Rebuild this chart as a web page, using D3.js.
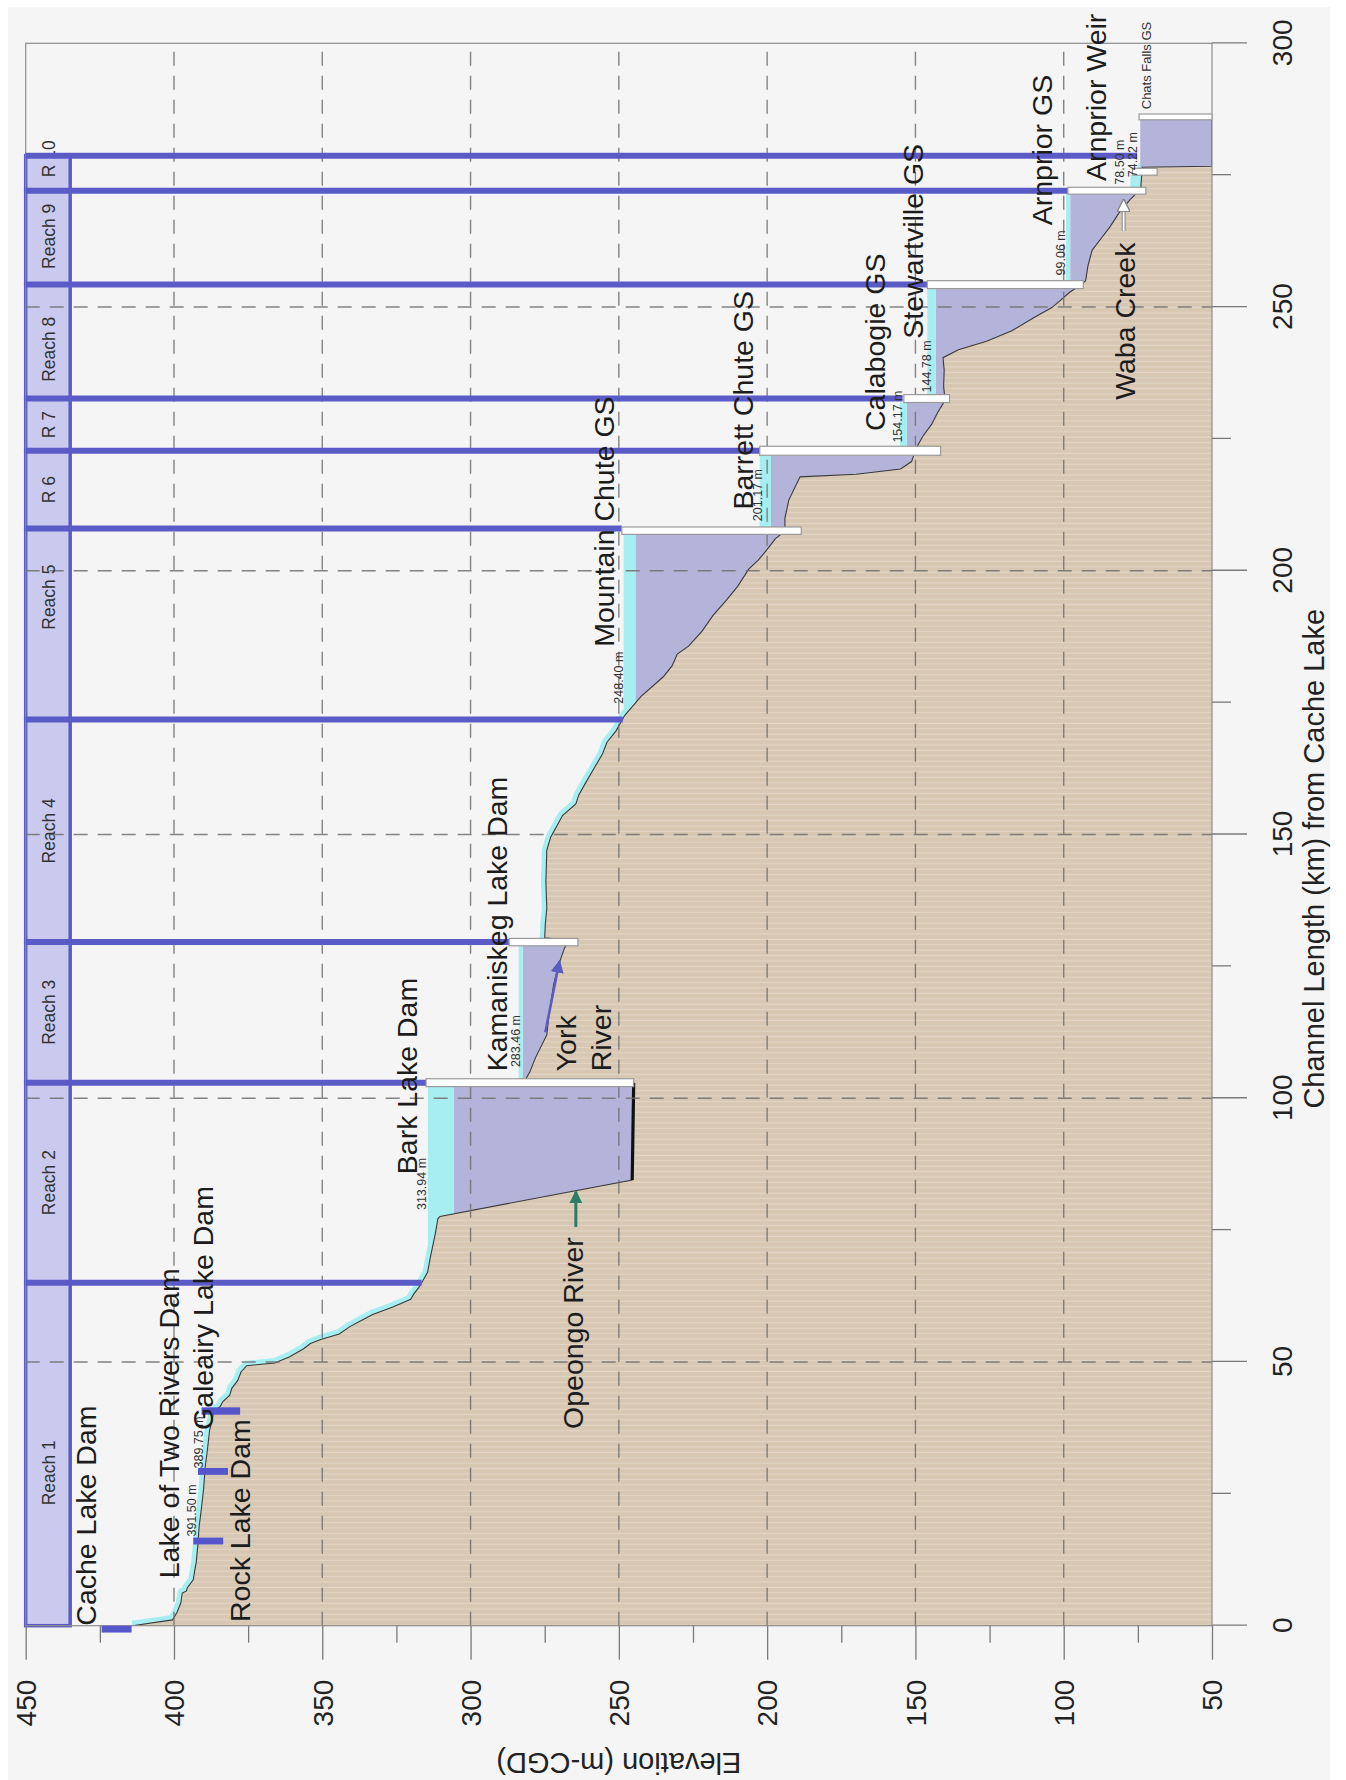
<!DOCTYPE html>
<html><head><meta charset="utf-8">
<script src="https://cdn.jsdelivr.net/npm/d3@7"></script>
<style>
html,body{margin:0;padding:0;background:#fff;}
svg{display:block;}
text{font-family:"Liberation Sans",Arial,Helvetica,sans-serif;}
</style></head><body>
<svg id="chart" width="1346" height="1780"></svg>
<script>
// ---------------- DATA ----------------
const kmTicks = [0, 50, 100, 150, 200, 250, 300];
const kmMinorTicks = [25, 75, 125, 175, 225, 275];
const elevTicks = [50, 100, 150, 200, 250, 300, 350, 400, 450];
const elevMinorTicks = [75, 125, 175, 225, 275, 325, 375, 425];
const kmGrid = [50, 100, 150, 200, 250];
const elevGrid = [100, 150, 200, 250, 300, 350, 400];

// river bed profile: [km, elevation m]
const groundProfile = [
  [0,414],[1.1,400.5],[2.5,399],[4.3,397.7],[6.2,397.2],[6.6,395.8],[7.2,395.5],[8.7,393.5],[10.5,393],[12,392.5],
  [15,392],[18.9,391.5],[22,390.8],[26,390],[30,389.5],[33.5,388.7],[37,388],[40.7,386.5],[41.5,384.5],[42.5,383.5],
  [43.7,381.2],[45,380.5],[46.5,378.5],[48.1,377.4],[49.3,375.5],[49.8,366],[51,361],[52.5,356.3],[53.5,354],[54.2,350.8],
  [55.3,344.3],[56.7,340.7],[57.8,337],[59,333],[60.4,326.2],[61.9,320.2],[63,319],[64.1,317.5],[65.5,316],[67,314.5],
  [70,313.5],[74,312],[77.2,311],[77.6,310.3],[84.5,245.5],[102.9,245],[103.2,281.8],[105,280],[107.7,278.1],[112,274.3],
  [116,273.5],[121.5,272],[125,270.5],[128.5,268.3],[130,267],[130.4,275],[133,274.8],[136,274.3],[141,274.6],[147,274.3],
  [149.5,273],[151.5,271],[153.6,269],[155.8,264.5],[157.5,263.5],[159.5,261.5],[162.4,258.5],[165.3,255.5],[167.5,254],[169.6,251],
  [172.6,248],[176.2,242.5],[179.9,235],[182,232],[184.2,230.3],[185.7,226.5],[188.5,222],[191.5,218.3],[194.4,213.8],[197,210],
  [200.3,206.2],[202,203],[203.9,200.2],[206.1,197.2],[207.5,194],[210,194],[213.4,192.7],[217.8,188.9],[218.3,170],[219.3,155],
  [220.7,151.3],[223.2,149.8],[225.5,147.5],[227.8,144.5],[230,142.5],[232.3,140],[235,140.5],[238,140.3],[240.4,140.7],[241.9,135.5],
  [243.5,126],[245.5,117.5],[248,110],[249.9,104],[251.3,101],[252.8,98],[254.2,94.2],[255,92.6],[257.9,91.8],[260.8,90.4],
  [263,87.4],[265.2,84.4],[267.8,81.4],[270.3,77.7],[271.7,75.3],[272.7,74],[276.5,73.5],[276.7,50],[286.6,50]
];
// deep Bark Lake bottom segment
const barkBottom = [[84.5,245.5],[102.9,245]];

// reach boundaries (km) and where each boundary line stops (elevation)
const reachBounds = [0, 65.0, 102.95, 129.6, 171.8, 208.0, 222.75, 232.65, 254.25, 272.05, 278.7];
const reachLineEnd = [316.5, 315, 287, 248.7, 249, 202.5, 154.3, 146, 98.6, 75.3];
const reachNames = ["Reach 1","Reach 2","Reach 3","Reach 4","Reach 5","R 6","R 7","Reach 8","Reach 9","R 10"];
const reachLabelKm = [29, 84, 116.3, 150.7, 195, 215.4, 227.7, 242, 263.4, 278.1];

// reservoirs: km extent, normal level (lavender top) and high level (cyan top)
const resKmStart = [66, 103.7, 171.8, 208.3, 223.6, 233.4, 255, 272.7, 276.3];
const resKmEnd   = [102.2, 128.9, 206.9, 221.9, 231.9, 253.5, 271.4, 275, 285.5];
const resLevel   = [305.6, 282.4, 244.4, 198.7, 152.9, 143.1, 97.8, 74, 74.2];
const resMax     = [314.4, 283.8, 248.4, 202.5, 155.2, 146, 99.2, 77.5, 74.2];

// dams / generating stations (white bars)
const damKmStart = [102.2, 128.9, 206.9, 221.9, 231.9, 253.5, 271.4, 275, 285.5];
const damKmEnd   = [103.7, 130.3, 208.3, 223.6, 233.4, 255, 272.7, 276.3, 286.6];
const damTop     = [315, 287, 249, 202.5, 153.9, 146, 98.6, 76.8, 74.6];
const damBottom  = [245, 263.8, 188.5, 141.5, 138.5, 93.4, 72.3, 68.5, 50];

// small dams in Reach 1 (blue bars)
const smallDamKmStart = [-1.3, 15.4, 28.6, 40.0];
const smallDamKmEnd   = [0, 16.7, 29.9, 41.4];
const smallDamTop     = [424.4, 393.5, 391.9, 390.7];
const smallDamBottom  = [414.3, 383.4, 381.8, 377.7];

// big labels: text, start km, baseline elevation
const nameText = ["Cache Lake Dam","Lake of Two Rivers Dam","Galeairy Lake Dam","Rock Lake Dam","Bark Lake Dam",
  "Kamaniskeg Lake Dam","York","River","Opeongo River","Mountain Chute GS","Barrett Chute GS","Calabogie GS",
  "Stewartville GS","Arnprior GS","Arnprior Weir","Waba Creek"];
const nameKm = [0, 9.0, 37.1, 0.7, 85.6, 105.1, 105.1, 105.1, 37.3, 185.6, 211.6, 226.5, 244, 265.5, 273.9, 232.4];
const nameElev = [426.3, 398.4, 386.7, 374.4, 318.2, 287.7, 264.5, 252.5, 262, 251.7, 204.8, 160.1, 147.5, 103.8, 85.6, 75.8];

// water level labels
const levelText = ["391.50 m","389.75 m","313.94 m","283.46 m","248.40 m","201.17 m","154.17 m","144.78 m","99.06 m","78.50 m","74.22 m"];
const levelKm   = [16.9, 29.8, 78.8, 105.9, 174.8, 209.4, 224.3, 233.8, 256, 273.2, 274.6];
const levelElev = [392.5, 390.3, 315, 283.3, 248.7, 201.7, 154.6, 144.8, 99.4, 79.8, 75.3];

// tributary arrows: [km from, elev from, km to, elev to]
const opeongoArrow = [75.6, 264.5, 82.3, 264.5];
const yorkArrow = [112.5, 274.8, 126, 270];
const wabaArrow = [264.4, 79.8, 270.3, 79.8];

// ---------------- DRAW ----------------
const svg = d3.select("#chart");
svg.append("rect").attr("x",8).attr("y",7).attr("width",1322).attr("height",1773).attr("fill","#f5f5f5");

const W = 1582.4, H = 1186.3;
const X0 = 25.7, Y0 = 1625.7;
const x = d3.scaleLinear().domain([0,300]).range([0,W]);
const y = d3.scaleLinear().domain([50,450]).range([H,0]);

const defs = svg.append("defs");
const g = svg.append("g").attr("transform", `translate(${X0},${Y0}) rotate(-90)`);

defs.append("clipPath").attr("id","plotclip").append("rect")
  .attr("x",0).attr("y",0).attr("width",W).attr("height",H);
const pat = defs.append("pattern").attr("id","tan").attr("patternUnits","userSpaceOnUse")
  .attr("width",5.4).attr("height",20);
pat.append("rect").attr("width",5.4).attr("height",20).attr("fill","#d7c7b3");
pat.append("rect").attr("x",0).attr("width",1.1).attr("height",20).attr("fill","#e3d6c6");

function arrowMarker(id, fill, stroke){
  const m = defs.append("marker").attr("id",id).attr("viewBox","0 0 10 10")
    .attr("refX",9).attr("refY",5).attr("markerUnits","userSpaceOnUse")
    .attr("markerWidth",13).attr("markerHeight",13).attr("orient","auto");
  m.append("path").attr("d","M0,0 L10,5 L0,10 z").attr("fill",fill)
    .attr("stroke",stroke||"none").attr("stroke-width",stroke?1.2:0);
}
arrowMarker("arrGreen","#2b7d66");
arrowMarker("arrBlue","#5b5bc0");
arrowMarker("arrWhite","#ffffff","#8a8a8a");

const clip = g.append("g").attr("clip-path","url(#plotclip)");

const line = d3.line().x(d => x(d[0])).y(d => y(d[1]));
const area = d3.area().x(d => x(d[0])).y0(y(50)).y1(d => y(d[1]));

// cyan river band along bed
clip.append("path").datum(groundProfile).attr("d", line)
  .attr("fill","none").attr("stroke","#a6eef0").attr("stroke-width",10).attr("stroke-linejoin","round");

// reservoirs
resKmStart.forEach((k0,i) => {
  clip.append("rect").attr("x", x(k0)).attr("width", x(resKmEnd[i]) - x(k0))
    .attr("y", y(resLevel[i])).attr("height", y(50) - y(resLevel[i])).attr("fill","#b4b4da");
  if (resMax[i] > resLevel[i]) {
    clip.append("rect").attr("x", x(k0)).attr("width", x(resKmEnd[i]) - x(k0))
      .attr("y", y(resMax[i])).attr("height", y(resLevel[i]) - y(resMax[i])).attr("fill","#a6eef0");
  }
});

// ground
clip.append("path").datum(groundProfile).attr("d", area).attr("fill","url(#tan)");

// reach boxes
for (let i = 0; i < reachNames.length; i++) {
  g.append("rect").attr("x", x(reachBounds[i])).attr("width", x(reachBounds[i+1]) - x(reachBounds[i]))
    .attr("y", y(450)).attr("height", y(435) - y(450))
    .attr("fill","#cacaee").attr("stroke","#5b5bc8").attr("stroke-width",3.5);
}

// grid
const grid = g.append("g").attr("stroke","#707070").attr("stroke-width",1.4).attr("stroke-dasharray","14,10").attr("opacity",0.85);
kmGrid.forEach(k => grid.append("line").attr("x1",x(k)).attr("x2",x(k)).attr("y1",y(450)).attr("y2",y(50)));
elevGrid.forEach(e => grid.append("line").attr("x1",0).attr("x2",W).attr("y1",y(e)).attr("y2",y(e)));

// bed outline
clip.append("path").datum(groundProfile).attr("d", line)
  .attr("fill","none").attr("stroke","#3a3a3a").attr("stroke-width",1.1);
clip.append("path").datum(barkBottom).attr("d", line)
  .attr("fill","none").attr("stroke","#111").attr("stroke-width",3.2);

// frame
g.append("rect").attr("x",0).attr("y",0).attr("width",W).attr("height",H)
  .attr("fill","none").attr("stroke","#8c8c8c").attr("stroke-width",1.2);

// reach labels
reachNames.forEach((t,i) => {
  g.append("text").attr("x", x(reachLabelKm[i])).attr("y", y(442.3)).attr("dy","0.35em")
    .attr("text-anchor","middle").attr("font-size",17.5).attr("fill","#333").text(t);
});

// reach boundary lines
reachLineEnd.forEach((e,i) => {
  const k = reachBounds[i+1];
  g.append("line").attr("x1", x(k)).attr("x2", x(k)).attr("y1", y(450)).attr("y2", y(e))
    .attr("stroke","#5b5bc8").attr("stroke-width",6);
});

// dams (white bars)
damKmStart.forEach((k0,i) => {
  g.append("rect").attr("x", x(k0)).attr("width", x(damKmEnd[i]) - x(k0))
    .attr("y", y(damTop[i])).attr("height", y(damBottom[i]) - y(damTop[i]))
    .attr("fill","#ffffff").attr("stroke","#9a9a9a").attr("stroke-width",1.2);
});

// small blue dams
smallDamKmStart.forEach((k0,i) => {
  g.append("rect").attr("x", x(k0)).attr("width", x(smallDamKmEnd[i]) - x(k0))
    .attr("y", y(smallDamTop[i])).attr("height", y(smallDamBottom[i]) - y(smallDamTop[i]))
    .attr("fill","#5555cc");
});

// arrows
function drawArrow(a, color, width, marker){
  g.append("line").attr("x1",x(a[0])).attr("y1",y(a[1])).attr("x2",x(a[2])).attr("y2",y(a[3]))
    .attr("stroke",color).attr("stroke-width",width).attr("marker-end",`url(#${marker})`);
}
drawArrow(opeongoArrow, "#2b7d66", 3, "arrGreen");
drawArrow(yorkArrow, "#5b5bc0", 2.5, "arrBlue");
g.append("line").attr("x1",x(wabaArrow[0])).attr("y1",y(wabaArrow[1])).attr("x2",x(wabaArrow[2])-8).attr("y2",y(wabaArrow[3]))
  .attr("stroke","#8a8a8a").attr("stroke-width",4);
drawArrow(wabaArrow, "#ffffff", 1.8, "arrWhite");

// level labels
levelText.forEach((t,i) => {
  g.append("text").attr("x", x(levelKm[i])).attr("y", y(levelElev[i]))
    .attr("font-size",12.5).attr("fill","#333").text(t);
});
g.append("text").attr("x", x(287.5)).attr("y", y(70.5)).attr("font-size",13).attr("fill","#333").text("Chats Falls GS");

// names
nameText.forEach((t,i) => {
  g.append("text").attr("x", x(nameKm[i])).attr("y", y(nameElev[i]))
    .attr("font-size",28.5).attr("fill","#1c1c1c").text(t);
});

// axes
function styleAxis(sel){
  sel.attr("font-family",null).attr("font-size",28);
  sel.selectAll(".tick line").attr("stroke","#7a7a7a").attr("stroke-width",1.3);
  sel.selectAll(".tick text").attr("fill","#222");
  sel.select(".domain").remove();
}
const gx = g.append("g").attr("transform",`translate(0,${H})`)
  .call(d3.axisBottom(x).tickValues(kmTicks).tickSize(35).tickFormat(d3.format("d")));
styleAxis(gx);
gx.selectAll(".tick text").attr("y",60).attr("dy","0.71em");
const gxm = g.append("g").attr("transform",`translate(0,${H})`)
  .call(d3.axisBottom(x).tickValues(kmMinorTicks).tickSize(19).tickFormat(""));
styleAxis(gxm);

const gy = g.append("g").call(d3.axisLeft(y).tickValues(elevTicks).tickSize(34).tickFormat(d3.format("d")));
styleAxis(gy);
gy.selectAll(".tick text").attr("x",-54).attr("dy","0.35em");
const gym = g.append("g").call(d3.axisLeft(y).tickValues(elevMinorTicks).tickSize(17).tickFormat(""));
styleAxis(gym);

g.append("text").attr("x", x(145.4)).attr("y", H + 112).attr("text-anchor","middle")
  .attr("font-size",29).attr("fill","#222").text("Channel Length (km) from Cache Lake");
g.append("text").attr("transform", `translate(${-127.3},${y(250)}) rotate(-90)`).attr("text-anchor","middle")
  .attr("font-size",29).attr("fill","#222").text("Elevation (m-CGD)");
</script>
</body></html>
